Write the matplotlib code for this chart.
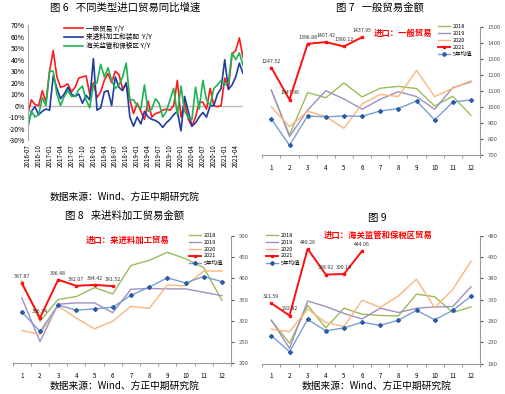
import matplotlib
matplotlib.use('Agg')
import matplotlib.pyplot as plt
import numpy as np

plt.rcParams['font.family'] = ['Noto Sans CJK SC', 'DejaVu Sans']

# ---- Fig 6: YoY growth by import type (monthly, 2016-07 .. 2021-06)
months = ['%d-%02d' % (2016 + (6 + i) // 12, (6 + i) % 12 + 1) for i in range(60)]
general_yoy = [-8, 5, 1, 0, 13, 3, 30, 48, 25, 16, 17, 19, 12, 16, 24, 25, 26, 10,
               20, 7, 12, 22, 28, 20, 30, 27, 15, 18, 5, -7, 2, -5, -12, 4, -10, -7,
               -6, -4, -3, -4, 0, 22, -10, 3, -12, -18, -10, 3, 3, -3, 15, 0, -1, 0,
               24, 15, 45, 48, 59, 42]
processing_yoy = [-19, -5, -1, -8, -5, -3, -4, 26, 15, 6, 10, 16, 10, 8, 10, 2, 9, 5,
                  41, -4, -2, 12, 13, 0, 25, 16, 13, 20, -10, -18, -10, -16, -5, -10, -12, -13,
                  -15, -19, -15, -12, -8, -5, -22, 8, -5, -18, -15, -10, -6, -10, 0, 0, 10, 15,
                  40, 14, 18, 25, 37, 28]
bonded_yoy = [-19, -5, -10, -8, 7, 0, 30, 30, 10, 0, 8, 13, 8, 8, 14, 17, 5, -2,
              18, 20, 36, 25, 33, 22, 15, 18, 25, 37, 5, 5, 0, -3, 18, -5, -3, 6,
              2, -10, -5, 5, 15, -8, 17, -5, -10, -12, 16, -3, 22, 5, 0, 15, 18, 22,
              18, 20, 46, 40, 46, 35]
yoy_names = ['一般贸易 Y/Y', '来进料加工和装配  Y/Y', '海关监管和保税区 Y/Y']

# ---- Fig 7-9: monthly amounts by year
month_nums = list(range(1, 13))
years = ['2018', '2019', '2020', '2021', '5年均值']

gen_2018 = [1104, 827, 1092, 1060, 1152, 1065, 1119, 1131, 1117, 1008, 1069, 950]
gen_2019 = [1108, 817, 983, 1104, 1052, 988, 1050, 1098, 1067, 988, 1123, 1158]
gen_2020 = [1002, 879, 975, 942, 869, 1021, 1081, 1067, 1231, 1067, 1119, 1165]
gen_2021 = [1247.52, 1047.96, 1396.88, 1407.42, 1380.12, 1437.95]
gen_avg = [927, 762, 946, 940, 946, 944, 977, 992, 1040, 921, 1033, 1046]

proc_2018 = [393, 299, 350, 357, 378, 363, 430, 442, 461, 446, 425, 348]
proc_2019 = [354, 251, 339, 342, 342, 319, 374, 376, 375, 375, 367, 359]
proc_2020 = [277, 268, 335, 306, 281, 299, 334, 329, 384, 382, 417, 417]
proc_2021 = [387.87, 306.74, 396.48, 382.07, 384.42, 381.52]
proc_avg = [321, 275, 337, 325, 328, 332, 360, 379, 401, 389, 404, 392]

bond_2018 = [281, 228, 317, 264, 310, 296, 293, 292, 343, 337, 300, 313]
bond_2019 = [282, 216, 327, 314, 298, 285, 310, 300, 310, 313, 314, 360]
bond_2020 = [261, 255, 308, 277, 267, 329, 312, 339, 378, 311, 354, 420]
bond_2021 = [321.59, 292.82, 449.26, 388.92, 390.14, 444.06]
bond_avg = [246, 208, 284, 257, 264, 277, 270, 282, 305, 283, 305, 338]

W, H = 505, 394
fig = plt.figure(figsize=(W / 100, H / 100), dpi=100)


def box(l, t, r, b):
    return [l / W, 1 - b / H, (r - l) / W, (b - t) / H]


def ftext(x, y, s, **kw):
    fig.text(x / W, 1 - y / H, s, ha='center', va='center', **kw)


# ---------- panel: fig 6
ax = fig.add_axes(box(27.7, 25.3, 243, 140))
x = np.arange(60)
ax.plot(x, general_yoy, color='#FF1A1A', lw=1.2, label=yoy_names[0])
ax.plot(x, processing_yoy, color='#1F3C9E', lw=1.2, label=yoy_names[1])
ax.plot(x, bonded_yoy, color='#1DB454', lw=1.2, label=yoy_names[2])
ax.axhline(0, color='#BBBBBB', lw=1.0, zorder=0)
ax.set_xlim(0, 59)
ax.set_ylim(-30, 70)
ax.set_yticks(range(-30, 71, 10))
ax.set_yticklabels(['%d%%' % v for v in range(-30, 71, 10)], fontsize=5)
ax.set_xticks(x[::3])
ax.set_xticklabels(months[::3], rotation=90, fontsize=4.5)
ax.tick_params(axis='x', length=0, pad=3)
ax.tick_params(axis='y', length=0, pad=2)
for s in ['top', 'right', 'bottom']:
    ax.spines[s].set_visible(False)
ax.spines['left'].set_color('#AAAAAA')
ax.legend(loc='upper left', bbox_to_anchor=(0.15, 1.04), frameon=False, fontsize=4.8,
          handlelength=2.8, labelspacing=0.1, borderpad=0.1, handletextpad=0.5)

ftext(125, 8, '图 6   不同类型进口贸易同比增速', fontsize=7.5)
ftext(125, 197, '数据来源：Wind、方正中期研究院', fontsize=7, style='italic')


def amount_panel(rect, d18, d19, d20, d21, davg, ylim, step, note, note_xy, note_ha,
                 leg_loc, leg_anchor):
    a = fig.add_axes(rect)
    a.plot(month_nums, d18, color='#9BBB59', lw=1.0, label=years[0])
    a.plot(month_nums, d19, color='#9F8FC2', lw=1.0, label=years[1])
    a.plot(month_nums, d20, color='#FAB57E', lw=1.0, label=years[2])
    a.plot(month_nums[:len(d21)], d21, color='#FF1010', lw=1.4, marker='s', ms=2,
           label=years[3])
    a.plot(month_nums, davg, color='#7A9ED2', lw=1.0, marker='D', ms=2,
           mfc='#2A5BA8', mec='#2A5BA8', label=years[4])
    for m, v in zip(month_nums, d21):
        a.annotate('%.2f' % v, (m, v), xytext=(0, 3), textcoords='offset points',
                   ha='center', va='bottom', fontsize=3.8, color='#333333')
    a.text(note_xy[0], note_xy[1], note, color='#FF0000', fontsize=6, fontweight='bold',
           ha=note_ha, va='center')
    a.set_xlim(0.5, 12.5)
    a.set_ylim(*ylim)
    a.set_yticks(np.arange(ylim[0], ylim[1] + 1, step))
    a.yaxis.tick_right()
    a.tick_params(axis='y', labelsize=4.3, length=2, colors='#555555')
    a.set_xticks(month_nums)
    a.set_xticks(np.arange(0.5, 12.6, 1), minor=True)
    a.tick_params(axis='x', which='major', length=0, labelsize=4.5, pad=6)
    a.tick_params(axis='x', which='minor', length=2, color='#888888')
    for s in ['top', 'left']:
        a.spines[s].set_visible(False)
    a.spines['right'].set_color('#999999')
    a.spines['bottom'].set_color('#999999')
    a.legend(loc=leg_loc, bbox_to_anchor=leg_anchor, frameon=False, fontsize=4,
             handlelength=2.2, labelspacing=0.35, borderpad=0.1, handletextpad=0.5)
    return a


amount_panel(box(262.3, 27.3, 480, 155.3), gen_2018, gen_2019, gen_2020, gen_2021, gen_avg,
             (700, 1500), 100, '进口：一般贸易', (6.65, 1460), 'left',
             'upper right', (0.98, 1.05))
ftext(380, 8, '图 7   一般贸易金额', fontsize=7.5)

amount_panel(box(12.7, 235.7, 231, 363.3), proc_2018, proc_2019, proc_2020, proc_2021, proc_avg,
             (200, 500), 50, '进口：来进料加工贸易', (6.8, 488), 'center',
             'upper right', (0.98, 1.05))
ftext(125, 216, '图 8   来进料加工贸易金额', fontsize=7.5)
ftext(125, 386, '数据来源：Wind、方正中期研究院', fontsize=7, style='italic')

amount_panel(box(262.3, 235.7, 480, 363.7), bond_2018, bond_2019, bond_2020, bond_2021, bond_avg,
             (180, 480), 50, '进口：海关监管和保税区贸易', (6.9, 481), 'center',
             'upper left', (0.0, 1.05))
ftext(377, 218, '图 9', fontsize=7.5)
ftext(377, 386, '数据来源：Wind、方正中期研究院', fontsize=7, style='italic')

fig.savefig('out.png', dpi=100)
